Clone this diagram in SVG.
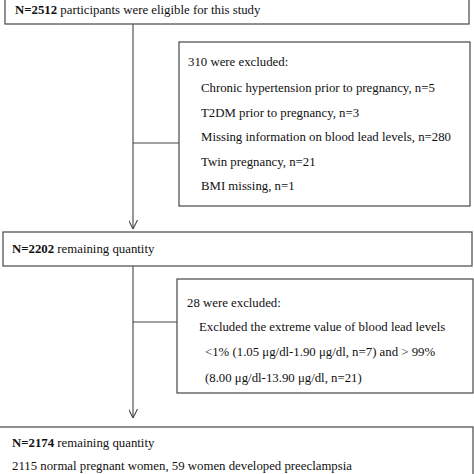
<svg xmlns="http://www.w3.org/2000/svg" width="474" height="474" viewBox="0 0 474 474">
<defs>
<style>
.box{fill:#fff;stroke:#555;stroke-width:1.3}
.ln{fill:none;stroke:#444;stroke-width:1.1}
text{font-family:"Liberation Serif","Times New Roman",serif;font-size:12.8px;fill:#111}
.b{font-weight:bold}
</style>
<marker id="ah" viewBox="0 0 10 10" refX="10" refY="5" markerWidth="9" markerHeight="9" markerUnits="userSpaceOnUse" orient="auto">
<path d="M0,0 L10,5 L0,10" fill="none" stroke="#444" stroke-width="1.2"/>
</marker>
</defs>
<rect width="474" height="474" fill="#fff"/>
<g id="connectors">
<line class="ln" x1="133" y1="24" x2="133" y2="229" marker-end="url(#ah)"/>
<line class="ln" x1="133" y1="143" x2="179" y2="143"/>
<line class="ln" x1="133" y1="266" x2="133" y2="418" marker-end="url(#ah)"/>
<line class="ln" x1="133" y1="322" x2="177" y2="322"/>
</g>
<g id="n1">
<rect class="box" x="5" y="-2" width="464" height="26"/>
<text x="15" y="14"><tspan class="b">N=2512</tspan> participants were eligible for this study</text>
</g>
<g id="ex1">
<rect class="box" x="179" y="42" width="291" height="164"/>
<text x="188" y="66">310 were excluded:</text>
<text x="201" y="92">Chronic hypertension prior to pregnancy, n=5</text>
<text x="201" y="117">T2DM prior to pregnancy, n=3</text>
<text x="201" y="141">Missing information on blood lead levels, n=280</text>
<text x="201" y="166">Twin pregnancy, n=21</text>
<text x="201" y="190">BMI missing, n=1</text>
</g>
<g id="n2">
<rect class="box" x="3" y="232" width="469" height="34"/>
<text x="12" y="253"><tspan class="b">N=2202</tspan> remaining quantity</text>
</g>
<g id="ex2">
<rect class="box" x="177" y="279" width="296" height="114"/>
<text x="187" y="307">28 were excluded:</text>
<text x="199" y="331">Excluded the extreme value of blood lead levels</text>
<text x="205" y="356">&lt;1% (1.05 μg/dl-1.90 μg/dl, n=7) and &gt; 99%</text>
<text x="205" y="382">(8.00 μg/dl-13.90 μg/dl, n=21)</text>
</g>
<g id="n3">
<rect class="box" x="-2" y="427" width="475" height="60"/>
<text x="12" y="447"><tspan class="b">N=2174</tspan> remaining quantity</text>
<text x="12" y="470">2115 normal pregnant women, 59 women developed preeclampsia</text>
</g>
</svg>
